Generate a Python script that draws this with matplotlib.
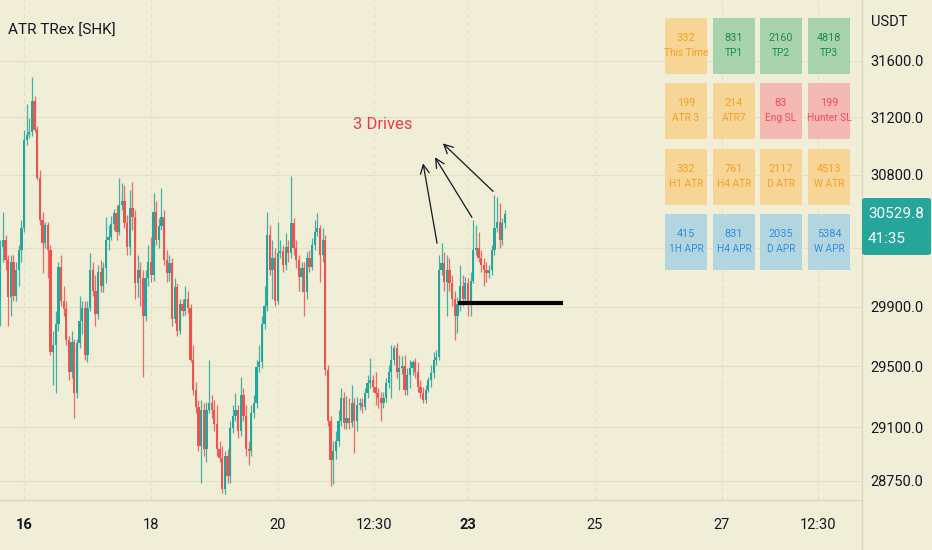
import numpy as np
import matplotlib
matplotlib.use('Agg')
import matplotlib.pyplot as plt
from matplotlib.patches import FancyBboxPatch, Rectangle
from matplotlib.lines import Line2D
from matplotlib.ticker import FixedLocator, FixedFormatter, NullLocator

plt.rcParams['font.family'] = ['Roboto', 'DejaVu Sans']

# hourly candles, hour 0 = day 16 00:00
start_hour = -9
first_open = 29940
closes = [
    30302, 30349, 30213, 29967, 30199, 29974, 30145, 30281, 30431,
    31039, 31074, 31095, 31317, 31109, 30775, 30486, 30329, 30452, 30281,
    29595, 29642, 29783, 30165, 29940, 29886, 29675, 29462, 29662, 29323,
    29655, 29804, 29892, 29575, 29892, 30145, 30008, 29851, 30131, 30042,
    30158, 30349, 30370, 30458, 30533, 30404, 30588, 30622, 30465, 30302,
    30574, 30506, 30056, 30145, 30090, 29838, 30090, 30199, 30111, 30540,
    30349, 30445, 30506, 30213, 30124, 30192, 29817, 30029, 29735, 29920,
    29872, 29954, 29892, 29542, 29343, 29229, 28977, 29210, 28957, 29210,
    29256, 29210, 29123, 28957, 28897, 28698, 28911, 28784, 29097, 29176,
    29210, 29077, 29309, 29176, 28957, 28944, 29190, 29256, 29495, 29529,
    29783, 29906, 30383, 30145, 30226, 29940, 30261, 30274, 30179, 30302,
    30261, 30465, 30295, 30213, 30097, 30158, 29995, 30226, 30165, 30315,
    30404, 30431, 30247, 30349, 29476, 29143, 28884, 28944, 29010, 29143,
    29289, 29130, 29157, 29130, 29256, 29143, 29243, 29256, 29229, 29323,
    29389, 29409, 29362, 29323, 29289, 29256, 29289, 29389, 29462, 29542,
    29622, 29462, 29489, 29502, 29343, 29442, 29489, 29529, 29462, 29362,
    29323, 29276, 29343, 29409, 29456, 29542, 29562, 30145, 30192, 30063,
    30145, 30056, 29954, 29838, 29920, 30042, 29954, 30056, 29940, 30076,
    30281, 30295, 30226, 30179, 30145, 30124, 30145, 30281, 30431, 30472,
    30349, 30465, 30529.8]
highs = [
    30349, 30540, 30383, 30247, 30247, 30247, 30199, 30315, 30486,
    31109, 31296, 31199, 31484, 31352, 31143, 30831, 30540, 30472, 30472,
    30315, 29735, 29872, 30199, 30247, 30042, 29940, 29701, 29735, 29681,
    29681, 29974, 29940, 29940, 29940, 30261, 30199, 30111, 30179, 30213,
    30199, 30506, 30452, 30513, 30567, 30588, 30775, 30740, 30726, 30520,
    30692, 30747, 30554, 30247, 30199, 30145, 30145, 30315, 30370, 30671,
    30622, 30499, 30705, 30554, 30281, 30247, 30226, 30090, 30056, 29954,
    29954, 30042, 30008, 29920, 29642, 29396, 29276, 29276, 29256, 29263,
    29542, 29309, 29276, 29243, 29010, 28977, 28944, 28957, 29143, 29243,
    29323, 29243, 29429, 29356, 29243, 29010, 29243, 29309, 29542, 29642,
    29838, 30042, 30540, 30452, 30349, 30295, 30472, 30349, 30315, 30397,
    30349, 30789, 30499, 30349, 30247, 30199, 30199, 30267, 30281, 30363,
    30486, 30533, 30452, 30431, 30383, 29509, 29176, 29010, 29077, 29210,
    29356, 29329, 29303, 29289, 29376, 29289, 29296, 29289, 29289, 29356,
    29442, 29555, 29442, 29462, 29356, 29329, 29329, 29422, 29509, 29642,
    29642, 29655, 29575, 29569, 29575, 29489, 29542, 29542, 29555, 29529,
    29409, 29362, 29376, 29429, 29509, 29595, 29609, 30247, 30329, 30267,
    30247, 30226, 30111, 30008, 29967, 30179, 30111, 30097, 30090, 30131,
    30486, 30452, 30404, 30281, 30226, 30199, 30179, 30315, 30657, 30643,
    30602, 30499, 30554]
lows = [
    29770, 30199, 30145, 29770, 29838, 29940, 29940, 30042, 30199,
    30404, 31004, 31053, 31067, 31095, 30761, 30452, 30124, 30295, 30090,
    29575, 29376, 29323, 29735, 29906, 29838, 29642, 29409, 29422, 29157,
    29289, 29622, 29715, 29542, 29529, 29872, 29974, 29770, 29817, 29995,
    29995, 30056, 30281, 30349, 30417, 30349, 30383, 30554, 30431, 30247,
    30247, 30417, 29954, 29967, 29906, 29429, 29804, 30042, 30063, 30076,
    30315, 30295, 30417, 30179, 30063, 30076, 29770, 29790, 29701, 29715,
    29838, 29845, 29858, 29529, 29309, 29196, 28944, 28737, 28911, 28871,
    29190, 29157, 29077, 28911, 28871, 28671, 28665, 28737, 28737, 29063,
    29143, 29030, 29043, 29143, 28911, 28851, 28911, 29157, 29223, 29462,
    29489, 29749, 29872, 30111, 29954, 29906, 29920, 30226, 30131, 30145,
    30199, 30226, 30247, 30158, 30008, 29995, 29838, 29954, 30131, 30145,
    30281, 30376, 30063, 30199, 29442, 29110, 28717, 28731, 28890, 28977,
    29110, 29090, 29090, 29090, 29103, 28930, 29077, 29210, 29196, 29210,
    29289, 29356, 29329, 29243, 29223, 29143, 29223, 29263, 29356, 29289,
    29509, 29422, 29343, 29449, 29309, 29309, 29356, 29442, 29422, 29329,
    29289, 29256, 29256, 29330, 29362, 29422, 29509, 29542, 30111, 30008,
    29838, 30008, 29906, 29675, 29722, 29872, 29906, 29920, 29838, 29838,
    30056, 30247, 30199, 30131, 30042, 30063, 30090, 30111, 30247, 30404,
    30295, 30315, 30431]

price_ticks = [28750, 29100, 29500, 29900, 30300, 30800, 31200, 31600]
hidden_tick = 30300   # its label sits under the last-price tag
time_ticks = [0, 48, 96, 132.5, 168, 216, 264, 300.5]
time_labels = ['16', '18', '20', '12:30', '23', '25', '27', '12:30']
bold_labels = ['16', '23']
last_price = '30529.8'
countdown = '41:35'

# drawings
arrow_tails = [(156.3, 30329), (169.5, 30506), (177.5, 30685)]
arrow_heads = [(151.0, 30879), (155.5, 30921), (158.5, 31018)]
level_price = 29922
level_span = (164.2, 203.9)
note_text = '3 Drives'
note_pos = (135.8, 31150)

# ATR table
tbl_values = [['332', '831', '2160', '4818'],
              ['199', '214', '83', '199'],
              ['332', '761', '2117', '4513'],
              ['415', '831', '2035', '5384']]
tbl_labels = [['This Time', 'TP1', 'TP2', 'TP3'],
              ['ATR 3', 'ATR7', 'Eng SL', 'Hunter SL'],
              ['H1 ATR', 'H4 ATR', 'D ATR', 'W ATR'],
              ['1H APR', 'H4 APR', 'D APR', 'W APR']]
tbl_kinds = [['o', 'g', 'g', 'g'],
             ['o', 'o', 'r', 'r'],
             ['o', 'o', 'o', 'o'],
             ['b', 'b', 'b', 'b']]
kind_colors = {'o': ('#f6d596', '#f5a020'),
               'g': ('#a8d2ae', '#1f8a4e'),
               'r': ('#f5b9b4', '#ee4c5a'),
               'b': ('#b2d5e0', '#2f8ee0')}

bg = '#f0eed6'
grid_c = '#e2e0c5'
up_c = '#26a69a'
dn_c = '#ef5350'
txt_c = '#131722'

W, H = 932, 550
fig = plt.figure(figsize=(W / 100, H / 100), dpi=100, facecolor=bg)
ax = fig.add_axes([0, 50 / H, 862 / W, 500 / H], facecolor=bg)

closes = np.array(closes, dtype=float)
opens = np.r_[first_open, closes[:-1]]
highs = np.array(highs, dtype=float)
lows = np.array(lows, dtype=float)
hours = np.arange(start_hour, start_hour + len(closes))
up = closes >= opens
cols = np.where(up, up_c, dn_c)

ax.set_yscale('log')
ax.vlines(hours, lows, highs, colors=cols, lw=0.9, alpha=0.85, zorder=3)
body_lo = np.minimum(opens, closes)
body_hi = np.maximum(opens, closes)
ax.bar(hours, body_hi - body_lo, bottom=body_lo, width=0.85, color=cols,
       linewidth=0, zorder=4)

ax.set_xlim(-9.1, 317.1)
ax.set_ylim(28627, 32035)

ax.yaxis.tick_right()
ax.yaxis.set_major_locator(FixedLocator(price_ticks))
ax.yaxis.set_major_formatter(FixedFormatter(
    ['' if p == hidden_tick else '%.1f' % p for p in price_ticks]))
ax.yaxis.set_minor_locator(NullLocator())
ax.tick_params(axis='y', length=0, pad=6, labelsize=10.5, labelcolor=txt_c)
ax.set_xticks(time_ticks)
ax.set_xticklabels(time_labels)
ax.tick_params(axis='x', length=0, pad=13, labelsize=10.5, labelcolor=txt_c)
for lab in ax.get_xticklabels():
    if lab.get_text() in bold_labels:
        lab.set_fontweight('bold')

for p in price_ticks:
    ax.axhline(p, color=grid_c, lw=0.8, zorder=1)
for t in time_ticks:
    ax.axvline(t, color=grid_c, lw=0.8, ls=(0, (4, 3)), zorder=1)

for s in ['top', 'left']:
    ax.spines[s].set_visible(False)
for s in ['right', 'bottom']:
    ax.spines[s].set_color('#d9d7c0')
    ax.spines[s].set_linewidth(1)
fig.add_artist(Line2D([862 / W, 862 / W], [0, 50 / H], color='#d9d7c0', lw=1))

# drawings
for tail, head in zip(arrow_tails, arrow_heads):
    ax.annotate('', xy=head, xytext=tail,
                arrowprops=dict(arrowstyle='->', color=txt_c, lw=0.9,
                                mutation_scale=16, shrinkA=0, shrinkB=0),
                zorder=6)
ax.hlines(level_price, level_span[0], level_span[1], color='black', lw=3, zorder=6)
ax.text(note_pos[0], note_pos[1], note_text, color='#ec3a4b', fontsize=12,
        ha='center', va='center', zorder=6)

# header texts
fig.text(8 / W, 1 - 31 / H, 'ATR TRex [SHK]', fontsize=11, color=txt_c,
         va='center', ha='left')
fig.text(871 / W, 1 - 22 / H, 'USDT', fontsize=10.5, color=txt_c,
         va='center', ha='left')

# table
col_x = [665, 713, 760, 808]
row_y = [18, 83, 149, 214]
cw, ch = 42, 56
for r in range(4):
    for c in range(4):
        face, fg = kind_colors[tbl_kinds[r][c]]
        fig.add_artist(Rectangle((col_x[c] / W, 1 - (row_y[r] + ch) / H),
                                 cw / W, ch / H, transform=fig.transFigure,
                                 facecolor=face, edgecolor='none', zorder=5))
        cx = (col_x[c] + cw / 2) / W
        fig.text(cx, 1 - (row_y[r] + 20) / H, tbl_values[r][c], color=fg,
                 fontsize=7.8, ha='center', va='center', zorder=6)
        fig.text(cx, 1 - (row_y[r] + 35) / H, tbl_labels[r][c], color=fg,
                 fontsize=7.3, ha='center', va='center', zorder=6)

# last price tag
fig.add_artist(FancyBboxPatch((862 / W, 1 - 255 / H), 69 / W, 57 / H,
                              boxstyle='round,pad=0,rounding_size=0.004',
                              transform=fig.transFigure, facecolor=up_c,
                              edgecolor='none', zorder=7))
fig.text(868 / W, 1 - 214 / H, last_price, color='white', fontsize=11,
         va='center', ha='left', zorder=8)
fig.text(868 / W, 1 - 239 / H, countdown, color='white', fontsize=11,
         va='center', ha='left', zorder=8)

fig.savefig('out.png', dpi=100, facecolor=bg)
